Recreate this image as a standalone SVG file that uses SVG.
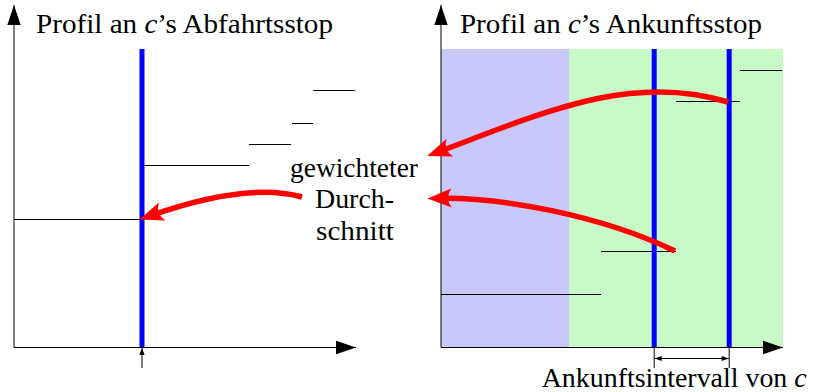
<svg xmlns="http://www.w3.org/2000/svg" width="814" height="392" viewBox="0 0 814 392">
<style>
text{font-family:'Liberation Serif',serif;font-size:27px;fill:#000}
.it{font-style:italic}
.axis{stroke:#000;stroke-width:1;fill:none}
.step{stroke:#000;stroke-width:1;fill:none}
.blue{stroke:#0000ff;stroke-width:5;fill:none}
.red{stroke:#ff0000;stroke-width:5.5;fill:none;stroke-linecap:butt;marker-end:url(#redhead)}
.thin{stroke:#000;stroke-width:1;fill:none}
</style>
<defs>
<marker id="redhead" markerUnits="userSpaceOnUse" viewBox="-26 -11 28 22" markerWidth="28" markerHeight="22" refX="-11" refY="0" orient="auto" overflow="visible">
<path d="M0,0 L-24,-9.5 Q-17,0 -24,9.5 Z" fill="#ff0000"/>
</marker>
<marker id="bighead" markerUnits="userSpaceOnUse" viewBox="-21 -8 22 16" markerWidth="22" markerHeight="16" refX="0" refY="0" orient="auto" overflow="visible">
<path d="M0,0 L-20,-6.7 L-20,6.7 Z" fill="#000"/>
</marker>
<marker id="smallhead" markerUnits="userSpaceOnUse" viewBox="-8 -4 9 8" markerWidth="9" markerHeight="8" refX="0" refY="0" orient="auto-start-reverse" overflow="visible">
<path d="M0,0 L-7,-2.6 L-7,2.6 Z" fill="#000"/>
</marker>
</defs>

<g id="right-background">
<rect x="441" y="49" width="128" height="298" fill="#c8c8fa"/>
<rect x="569" y="49" width="214" height="298" fill="#c8fac8"/>
</g>

<g id="left-profile">
<line class="step" x1="14" y1="219.5" x2="142" y2="219.5"/>
<line class="step" x1="142" y1="165.5" x2="249" y2="165.5"/>
<line class="step" x1="249" y1="144.5" x2="291" y2="144.5"/>
<line class="step" x1="292" y1="123.5" x2="313" y2="123.5"/>
<line class="step" x1="313" y1="90.5" x2="355" y2="90.5"/>
<line class="blue" x1="142" y1="49" x2="142" y2="347"/>
</g>

<g id="right-profile">
<line class="step" x1="740" y1="70.5" x2="782" y2="70.5"/>
<line class="step" x1="676" y1="101.5" x2="740" y2="101.5"/>
<line class="step" x1="601" y1="251.5" x2="676" y2="251.5"/>
<line class="step" x1="441" y1="294.5" x2="601" y2="294.5"/>
<line class="blue" x1="654.2" y1="49" x2="654.2" y2="347"/>
<line class="blue" x1="729.2" y1="49" x2="729.2" y2="347"/>
</g>

<g id="axes">
<line class="axis" x1="14" y1="347.5" x2="14" y2="5" marker-end="url(#bighead)"/>
<line class="axis" x1="14" y1="347.5" x2="356" y2="347.5" marker-end="url(#bighead)"/>
<line class="axis" x1="441" y1="347.5" x2="441" y2="5" marker-end="url(#bighead)"/>
<line class="axis" x1="441" y1="347.5" x2="783" y2="347.5" marker-end="url(#bighead)"/>
</g>

<g id="connectors">
<line class="thin" x1="142" y1="368" x2="142" y2="348" marker-end="url(#smallhead)"/>
<line class="thin" x1="654.2" y1="347" x2="654.2" y2="368"/>
<line class="thin" x1="729.2" y1="347" x2="729.2" y2="368"/>
<line class="thin" x1="654.7" y1="358.5" x2="728.7" y2="358.5" marker-start="url(#smallhead)" marker-end="url(#smallhead)"/>
<path class="red" d="M728,102 C630,72 540,114 437.6,152.2"/>
<path class="red" d="M675,251 C600,215 500,197 438.5,198.2"/>
<path class="red" d="M302,197 C255,184 195,200 149.8,215.9"/>
</g>

<g id="title-left">
<text x="36" y="33" textLength="297" lengthAdjust="spacingAndGlyphs">Profil an <tspan class="it">c</tspan>’s Abfahrtsstop</text>
</g>
<g id="title-right">
<text x="460" y="33" textLength="302" lengthAdjust="spacingAndGlyphs">Profil an <tspan class="it">c</tspan>’s Ankunftsstop</text>
</g>
<g id="label-average">
<text x="290" y="176.5" textLength="128" lengthAdjust="spacingAndGlyphs">gewichteter</text>
<text x="315" y="208" textLength="79" lengthAdjust="spacingAndGlyphs">Durch-</text>
<text x="316" y="239.5" textLength="78" lengthAdjust="spacingAndGlyphs">schnitt</text>
</g>
<g id="label-interval">
<text x="541.7" y="386.7" textLength="265" lengthAdjust="spacingAndGlyphs">Ankunftsintervall von <tspan class="it">c</tspan></text>
</g>
</svg>
